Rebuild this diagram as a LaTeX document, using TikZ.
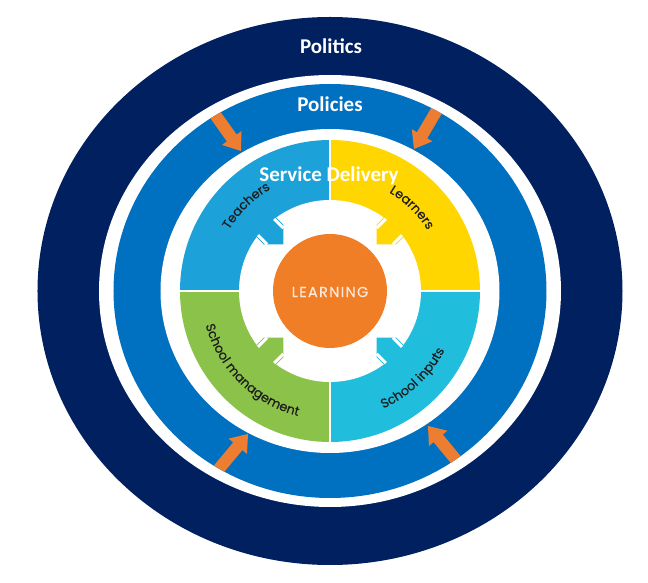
\documentclass[tikz,border=0pt]{standalone}
\usepackage{fontspec}
\setmainfont{Carlito}
\newfontfamily\popfont{Poppins}[FakeBold=0.4]
\newfontfamily\poplearn{Poppins}[LetterSpace=9.0, FakeBold=0.3]
\usetikzlibrary{decorations.text}
\definecolor{navy}{HTML}{002060}
\definecolor{ringblue}{HTML}{0070C0}
\definecolor{arrorange}{HTML}{ED7D31}
\definecolor{learnorange}{HTML}{F07E26}
\definecolor{qteach}{HTML}{1DA1D9}
\definecolor{qlearn}{HTML}{FFD600}
\definecolor{qmanage}{HTML}{8BC34A}
\definecolor{qinput}{HTML}{20BEDC}
\definecolor{lbltext}{HTML}{1E1E1E}
\definecolor{learntext}{HTML}{FBE9DC}
\tikzset{
  bigtitle/.style={font=\bfseries\fontsize{21}{21}\selectfont, text=white, anchor=base, inner sep=0pt},
  orangearrow/.style={fill=arrorange},
  curvelabel/.style={decorate, decoration={text along path, text align=center, text color=lbltext}}
}
\newcommand{\lblf}{\popfont\fontsize{12.8}{13}\selectfont}
\begin{document}
\begin{tikzpicture}[x=1pt, y=1pt]
\useasboundingbox (-330,-292) rectangle (318,291);
% outer rings
\fill[navy] (0,0) ellipse [x radius=292.5, y radius=274];
\fill[white] (0,0) ellipse [x radius=231, y radius=216];
\fill[ringblue] (0,0) ellipse [x radius=216.5, y radius=207];
% orange arrows in policies ring
\begin{scope}
\clip (0,0) ellipse [x radius=216.5, y radius=207];
\foreach \tx/\ty/\ang in {-89/140/-54.6, 84/142/-120.5, -82/-143/50.2, 98/-135/129.6}{
  \begin{scope}[shift={(\tx,\ty)}, rotate=\ang]
    \fill[orangearrow] (0,0) -- (-16,12) -- (-16,6) -- (-55,6) -- (-55,-6) -- (-16,-6) -- (-16,-12) -- cycle;
  \end{scope}
}
\end{scope}
\fill[white] (0,0) ellipse [x radius=169.5, y radius=162];
% service delivery quadrants
\fill[qteach] (0,0) -- (0,151) arc[start angle=90, end angle=180, x radius=150, y radius=151] -- cycle;
\fill[qlearn] (0,0) -- (150,0) arc[start angle=0, end angle=90, x radius=150, y radius=151] -- cycle;
\fill[qmanage] (0,0) -- (-150,0) arc[start angle=180, end angle=270, x radius=150, y radius=151] -- cycle;
\fill[qinput] (0,0) -- (0,-151) arc[start angle=270, end angle=360, x radius=150, y radius=151] -- cycle;
\draw[white, line width=2.2pt] (0,152) -- (0,-152);
\draw[white, line width=2.2pt] (-151,0) -- (151,0);
% inner white disk with arrows
\fill[white] (0,0) circle[radius=91];
\foreach \ang/\col in {135/qteach, 45/qlearn, 225/qmanage, 315/qinput}{
  \begin{scope}[shift={(\ang:66)}, rotate=\ang]
    \fill[\col] (0,0) -- (13.9,13.9) -- (40,13.9) -- (40,-13.9) -- (13.9,-13.9) -- cycle;
    \fill[white] (11.5,10) rectangle (24.5,13);
    \fill[white] (11.5,-10) rectangle (24.5,-13);
  \end{scope}
}
% center
\fill[learnorange] (0,0) circle[radius=57];
\node[font=\poplearn\fontsize{14.5}{15}\selectfont, text=learntext, inner sep=0pt] (learning) at (0,-1) {LEARNING};
% titles
\node[bigtitle] (politics) at (1,237) {Politics};
\node[bigtitle] (policies) at (0,179) {Policies};
\node[bigtitle] (service) at (-1,109) {Service Delivery};
% curved labels
\path[curvelabel, decoration={text={|\lblf|Teachers}}] (164.5:118) arc[start angle=164.5, end angle=104.5, radius=118];
\path[curvelabel, decoration={text={|\lblf|Learners}}] (75.5:115) arc[start angle=75.5, end angle=15.5, radius=115];
\path[curvelabel, decoration={text={|\lblf|School management}}] (165:129) arc[start angle=165, end angle=286, radius=129];
\path[curvelabel, decoration={text={|\lblf|School inputs}}] (253.5:129) arc[start angle=253.5, end angle=373.5, radius=129];
\end{tikzpicture}
\end{document}
